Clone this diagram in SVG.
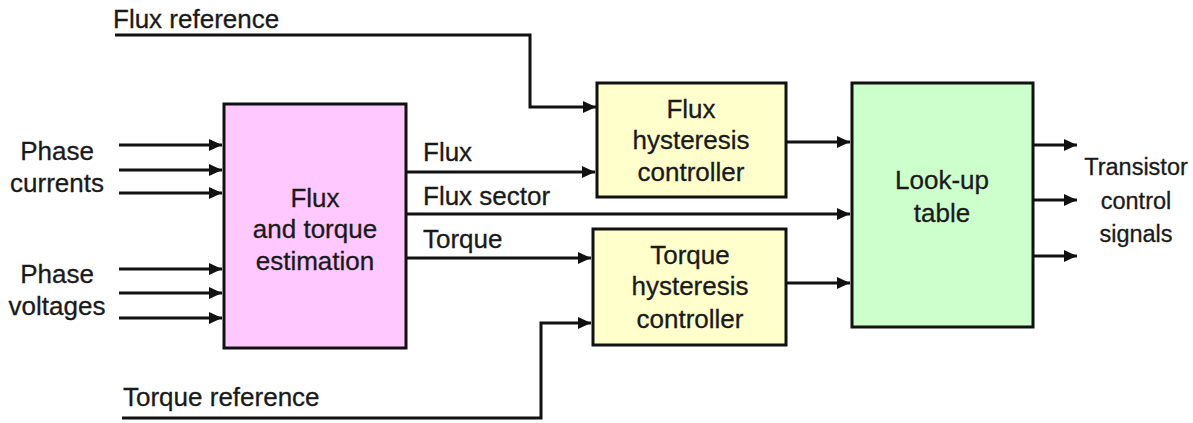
<svg xmlns="http://www.w3.org/2000/svg" width="1193" height="423" viewBox="0 0 1193 423">
<style>
text{font-family:"Liberation Sans",Arial,sans-serif;font-size:26px;fill:#1a1a1a;stroke:#1a1a1a;stroke-width:0.3}
.c{text-anchor:middle}
.sm{font-size:23.5px}
.box{stroke:#111;stroke-width:3}
.wire{fill:none;stroke:#111;stroke-width:3}
.arr{marker-end:url(#ah)}
</style>
<defs>
<marker id="ah" markerUnits="userSpaceOnUse" markerWidth="13" markerHeight="12" refX="13" refY="6" orient="auto">
<path d="M0,0 L13,6 L0,12 z" fill="#111"/>
</marker>
</defs>
<rect width="1193" height="423" fill="#fff"/>
<g id="connectors">
<path class="wire arr" d="M115,35 H530 V107 H596"/>
<path class="wire arr" d="M119,145 H222"/>
<path class="wire arr" d="M119,170 H222"/>
<path class="wire arr" d="M119,193 H222"/>
<path class="wire arr" d="M119,269 H222"/>
<path class="wire arr" d="M119,293 H222"/>
<path class="wire arr" d="M119,318 H222"/>
<path class="wire arr" d="M406,172 H595"/>
<path class="wire arr" d="M406,214 H850"/>
<path class="wire arr" d="M406,258 H591"/>
<path class="wire arr" d="M122,418 H541 V323 H591"/>
<path class="wire arr" d="M786,142 H850"/>
<path class="wire arr" d="M786,283 H850"/>
<path class="wire arr" d="M1033,145 H1077"/>
<path class="wire arr" d="M1033,200 H1077"/>
<path class="wire arr" d="M1033,256 H1077"/>
</g>
<g id="flux-reference-label"><text x="113" y="28">Flux reference</text></g>
<g id="torque-reference-label"><text x="123" y="406">Torque reference</text></g>
<g id="phase-currents-label"><text class="c" x="57" y="160">Phase</text><text class="c" x="57" y="192">currents</text></g>
<g id="phase-voltages-label"><text class="c" x="57" y="283">Phase</text><text class="c" x="57" y="315">voltages</text></g>
<g id="signal-labels"><text x="423" y="161">Flux</text><text x="423" y="205">Flux sector</text><text x="423" y="248">Torque</text></g>
<g id="estimator">
<rect class="box" x="224" y="104" width="182" height="244" fill="#ffc8ff"/>
<text class="c" x="315" y="207">Flux</text><text class="c" x="315" y="238">and torque</text><text class="c" x="315" y="270">estimation</text>
</g>
<g id="flux-hysteresis">
<rect class="box" x="597" y="83" width="189" height="114" fill="#ffffcc"/>
<text class="c" x="691" y="118">Flux</text><text class="c" x="691" y="149">hysteresis</text><text class="c" x="691" y="181">controller</text>
</g>
<g id="torque-hysteresis">
<rect class="box" x="593" y="229" width="193" height="116" fill="#ffffcc"/>
<text class="c" x="690" y="264">Torque</text><text class="c" x="690" y="295">hysteresis</text><text class="c" x="690" y="328">controller</text>
</g>
<g id="lookup-table">
<rect class="box" x="852" y="83" width="181" height="244" fill="#ccffcc"/>
<text class="c" x="942" y="189">Look-up</text><text class="c" x="942" y="222">table</text>
</g>
<g id="output-label"><text class="c sm" x="1136" y="175">Transistor</text><text class="c sm" x="1136" y="209">control</text><text class="c sm" x="1136" y="242">signals</text></g>
</svg>
